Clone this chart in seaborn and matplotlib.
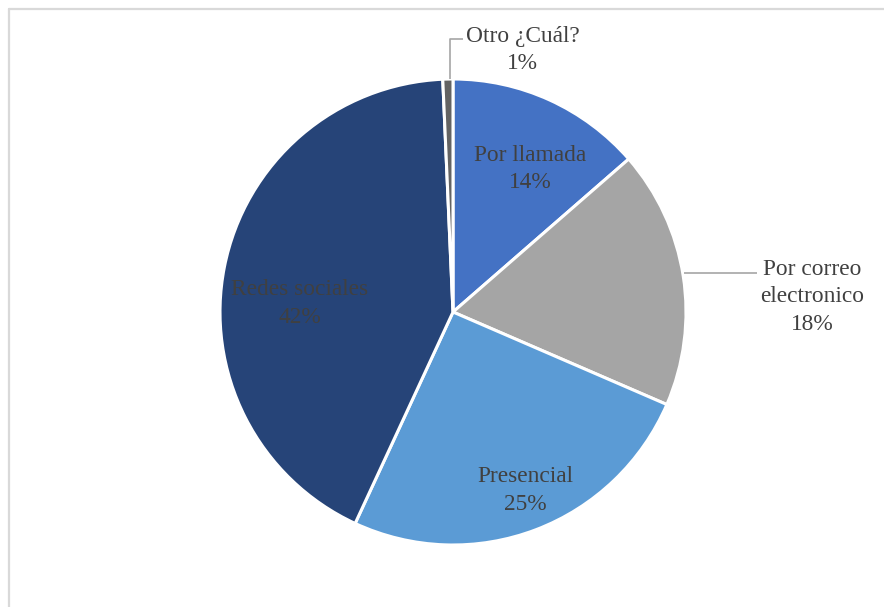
import matplotlib
matplotlib.use("Agg")
import matplotlib.pyplot as plt
from matplotlib.lines import Line2D
import seaborn as sns

# Contact channel shares (percent)
categories = ["Por llamada", "Por correo\nelectronico", "Presencial", "Redes sociales", "Otro ¿Cuál?"]
values = [13.6, 17.9, 25.4, 42.4, 0.7]
colors = ["#4472C4", "#A5A5A5", "#5B9BD5", "#264478", "#636363"]

sns.set_theme(style="white")
plt.rcParams["font.family"] = ["Liberation Serif", "DejaVu Serif"]

fig = plt.figure(figsize=(8.84, 6.07), dpi=100)
ax = fig.add_axes([0, 0, 1, 1])

wedges, _ = ax.pie(
    values,
    colors=colors,
    startangle=90,
    counterclock=False,
    radius=1.0,
    wedgeprops=dict(edgecolor="white", linewidth=2.2),
)

labels = [f"{c}\n{round(v)}%" for c, v in zip(categories, values)]
text_pos = [(0.33, 0.614), (1.541, 0.066), (0.309, -0.766), (-0.657, 0.036), (0.30, 1.124)]
txt_color = "#404040"
for lab, (x, y) in zip(labels, text_pos):
    ax.text(x, y, lab, ha="center", va="center", fontsize=16.8, color=txt_color,
            linespacing=1.4)

# Leader lines for the outside labels
lc = "#A6A6A6"
ax.plot([0.99, 1.305], [0.167, 0.167], color=lc, lw=1.2, solid_capstyle="butt")
ax.plot([-0.013, -0.013, 0.043], [1.0, 1.172, 1.172], color=lc, lw=1.2,
        solid_capstyle="butt")

ax.set_xlim(-453 / 233, (884 - 453) / 233)
ax.set_ylim(-(607 - 312) / 233, 312 / 233)
ax.set_aspect("auto")
ax.axis("off")

# Chart area frame (left and top edges)
fw, fh = 884, 607
fig.add_artist(Line2D([8.5 / fw, 8.5 / fw], [0, 1 - 8.5 / fh], transform=fig.transFigure,
                      color="#D9D9D9", lw=1.6))
fig.add_artist(Line2D([8.5 / fw, 1], [1 - 8.5 / fh, 1 - 8.5 / fh], transform=fig.transFigure,
                      color="#D9D9D9", lw=1.6))

fig.savefig("out.png", dpi=100, facecolor="white")
